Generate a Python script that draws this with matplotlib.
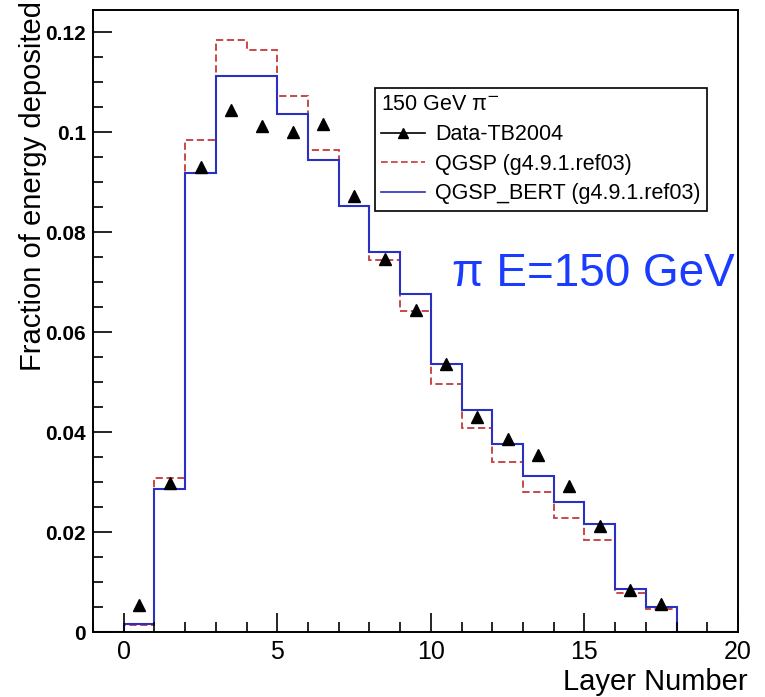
import numpy as np
import matplotlib
matplotlib.use("Agg")
import matplotlib.pyplot as plt
from matplotlib.ticker import MultipleLocator, FuncFormatter
from matplotlib.lines import Line2D

plt.rcParams['font.family'] = ['Liberation Sans', 'DejaVu Sans']

# -----------------------------
# Data (fraction of energy per layer, layers 0..17)
# -----------------------------
layers = np.arange(0, 18)
data_tb2004 = [0.0055, 0.0299, 0.0930, 0.1044, 0.1013, 0.1001, 0.1017, 0.0872, 0.0747,
               0.0644, 0.0536, 0.0431, 0.0387, 0.0355, 0.0292, 0.0212, 0.0085, 0.0057]
qgsp = [0.0015, 0.0309, 0.0984, 0.1185, 0.1165, 0.1073, 0.0964, 0.0853, 0.0744,
        0.0643, 0.0497, 0.0409, 0.0341, 0.0281, 0.0229, 0.0185, 0.0079, 0.0047]
qgsp_bert = [0.0016, 0.0287, 0.0919, 0.1112, 0.1112, 0.1037, 0.0944, 0.0853, 0.0761,
             0.0677, 0.0537, 0.0445, 0.0377, 0.0313, 0.0260, 0.0216, 0.0087, 0.0051]

edges = np.arange(-1, 21)
pad_l, pad_r = [0.0], [0.0, 0.0]

# -----------------------------
# Plot
# -----------------------------
fig = plt.figure(figsize=(7.65, 6.97), dpi=100)
ax = fig.add_axes([93/765, 1 - 632/697, (738 - 93)/765, (632 - 10)/697])

red = '#c43a3a'
blue = '#2a30c0'
ax.stairs(pad_l + qgsp + pad_r, edges, color=red, lw=1.3, linestyle=(0, (4, 2)))
ax.stairs(pad_l + qgsp_bert + pad_r, edges, color=blue, lw=1.5)
ax.plot(layers + 0.5, data_tb2004, linestyle='none', marker='^', ms=8.5,
        color='black')

ax.set_xlim(-1, 20)
ax.set_ylim(0, 0.1244)

ax.xaxis.set_major_locator(MultipleLocator(5))
ax.xaxis.set_minor_locator(MultipleLocator(1))
ax.yaxis.set_major_locator(MultipleLocator(0.02))
ax.yaxis.set_minor_locator(MultipleLocator(0.005))
ax.yaxis.set_major_formatter(FuncFormatter(lambda v, p: "0" if v == 0 else f"{v:.2f}".rstrip('0')))
ax.tick_params(which='both', direction='in', top=False, right=False, width=1.2)
ax.tick_params(which='major', length=14)
ax.tick_params(which='minor', length=7)
ax.tick_params(axis='x', labelsize=18, pad=6)
ax.tick_params(axis='y', labelsize=15, pad=5)
for lab in ax.get_yticklabels():
    lab.set_fontweight('bold')
for s in ax.spines.values():
    s.set_linewidth(1.4)

# axis titles
fig.text(33/765, 1 - 186/697, "Fraction of energy deposited", rotation=90,
         ha='center', va='center', fontsize=21)
fig.text(748/765, 1 - 690/697, "Layer Number", ha='right', va='baseline', fontsize=21)

# legend
handles = [
    Line2D([], [], color='black', marker='^', ms=7, lw=1.2),
    Line2D([], [], color=red, lw=1.2, linestyle=(0, (4, 2))),
    Line2D([], [], color=blue, lw=1.2),
]
labels = ["Data-TB2004", "QGSP (g4.9.1.ref03)", "QGSP_BERT (g4.9.1.ref03)"]
leg = ax.legend(handles, labels, title="150 GeV π$^{-}$", alignment='left',
                loc='upper left', bbox_to_anchor=(375/765, 1 - 88/697),
                bbox_transform=fig.transFigure, fontsize=15.5, title_fontsize=15.5,
                frameon=True, fancybox=False, edgecolor='black', framealpha=1,
                borderpad=0.3, labelspacing=0.4, handlelength=2.0,
                handletextpad=0.5, borderaxespad=0)
leg.get_frame().set_linewidth(1.2)

# annotation
fig.text(452/765, 1 - 286/697, "π E=150 GeV", color='#1a3cff', fontsize=33,
         ha='left', va='baseline')

plt.savefig("out.png", dpi=100)
plt.close()
